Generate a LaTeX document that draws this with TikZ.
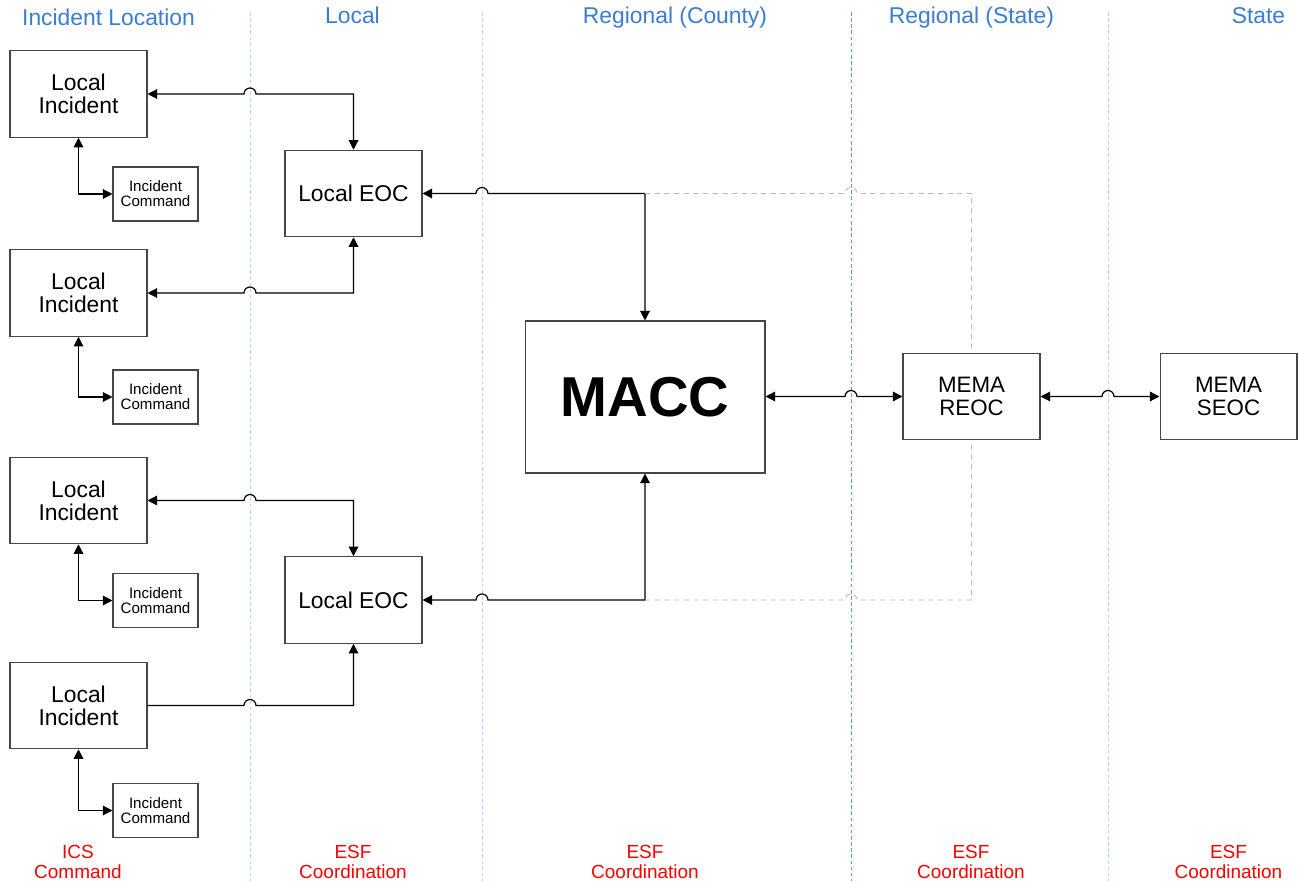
\documentclass[tikz,border=0pt]{standalone}
\usepackage{fontspec}
\setmainfont{Liberation Sans}
\usetikzlibrary{arrows.meta,calc}

\definecolor{headblue}{RGB}{58,125,210}
\definecolor{labelred}{RGB}{250,0,0}
\definecolor{divlight}{RGB}{178,214,240}
\definecolor{divdark}{RGB}{95,152,205}
\definecolor{boxgray}{RGB}{70,70,70}
\definecolor{dashgray}{RGB}{185,185,185}

\begin{document}
\begin{tikzpicture}[x=0.02cm,y=-0.02cm,
	>={Triangle[length=5.5pt,width=5.5pt]},
	unitbox/.style={draw=boxgray,line width=0.6pt,inner sep=0pt,align=center,
		minimum width=2.74cm,minimum height=1.73cm,font=\fontsize{13}{13}\selectfont},
	cmdbox/.style={draw=boxgray,line width=0.6pt,inner sep=0pt,align=center,
		minimum width=1.7cm,minimum height=1.08cm,font=\fontsize{8.6}{8.6}\selectfont},
	head/.style={anchor=base,text=headblue,font=\fontsize{13}{13}\selectfont},
	role/.style={text=labelred,align=center,font=\fontsize{10.8}{11.3}\selectfont},
	lane/.style={draw=divlight,line width=0.5pt,dash pattern=on 2pt off 1.5pt},
	lanedark/.style={draw=divdark,line width=0.5pt,dash pattern=on 2pt off 1.5pt},
	link/.style={line width=0.7pt},
	ghost/.style={draw=dashgray,line width=0.5pt,dash pattern=on 3pt off 2.5pt}]

	\useasboundingbox (0,0) rectangle (1298,881);

	% Lanes
	\coordinate (d1) at (250,12);
	\coordinate (d2) at (482,12);
	\coordinate (d3) at (851,12);
	\coordinate (d4) at (1108,12);
	\draw[lane] (d1) -- (250,881);
	\draw[lane] (d2) -- (482,881);
	\draw[lanedark] (d3) -- (851,881);
	\draw[lane] (d4) -- (1108,881);

	% Headers
	\node[head] (h1) at (108.5,26) {Incident Location};
	\node[head] (h2) at (352.5,24) {Local};
	\node[head] (h3) at (675,24)   {Regional (County)};
	\node[head] (h4) at (971.5,24) {Regional (State)};
	\node[head] (h5) at (1258.5,24) {State};

	% Incidents
	\node[unitbox] (li1) at (78.5,94)    {Local\\Incident};
	\node[unitbox] (li2) at (78.5,293)   {Local\\Incident};
	\node[unitbox] (li3) at (78.5,500.5) {Local\\Incident};
	\node[unitbox] (li4) at (78.5,705.5) {Local\\Incident};

	\node[cmdbox] (ic1) at (155.5,194)   {Incident\\Command};
	\node[cmdbox] (ic2) at (155.5,397)   {Incident\\Command};
	\node[cmdbox] (ic3) at (155.5,600.5) {Incident\\Command};
	\node[cmdbox] (ic4) at (155.5,810.5) {Incident\\Command};

	% Centres
	\node[unitbox] (eoc1) at (353.5,193.5) {Local EOC};
	\node[unitbox] (eoc2) at (353.5,600)   {Local EOC};
	\node[draw=boxgray,line width=0.6pt,minimum width=4.8cm,minimum height=3.04cm,
		font=\fontsize{32}{32}\selectfont\bfseries] (macc) at (645,397) {MACC};
	\node[unitbox,font=\fontsize{12.7}{12.8}\selectfont] (reoc) at (971.5,396.5) {MEMA\\REOC};
	\node[unitbox,font=\fontsize{12.7}{12.8}\selectfont] (seoc) at (1228.5,396.5) {MEMA\\SEOC};

	% Roles
	\node[role] (r1) at (78,862)     {ICS\\Command};
	\node[role] (r2) at (353,862)    {ESF\\Coordination};
	\node[role] (r3) at (645,862)    {ESF\\Coordination};
	\node[role] (r4) at (971,862)    {ESF\\Coordination};
	\node[role] (r5) at (1228.5,862) {ESF\\Coordination};

	% Command links
	\draw[link,<->] (li1.south) |- (ic1.west);
	\draw[link,<->] (li2.south) |- (ic2.west);
	\draw[link,<->] (li3.south) |- (ic3.west);
	\draw[link,<->] (li4.south) |- (ic4.west);

	% Incident to EOC
	\draw[link,<->] (li1.east) -- ($(d1 |- li1.east)+(-0.12cm,0)$)
		arc[start angle=180,end angle=0,radius=0.12cm] -| (eoc1.north);
	\draw[link,<->] (li2.east) -- ($(d1 |- li2.east)+(-0.12cm,0)$)
		arc[start angle=180,end angle=0,radius=0.12cm] -| (eoc1.south);
	\draw[link,<->] (li3.east) -- ($(d1 |- li3.east)+(-0.12cm,0)$)
		arc[start angle=180,end angle=0,radius=0.12cm] -| (eoc2.north);
	\draw[link,->] (li4.east) -- ($(d1 |- li4.east)+(-0.12cm,0)$)
		arc[start angle=180,end angle=0,radius=0.12cm] -| (eoc2.south);

	% EOC to MACC
	\draw[link,<->] (eoc1.east) -- ($(d2 |- eoc1.east)+(-0.12cm,0)$)
		arc[start angle=180,end angle=0,radius=0.12cm] -| (macc.north);
	\draw[link,<->] (eoc2.east) -- ($(d2 |- eoc2.east)+(-0.12cm,0)$)
		arc[start angle=180,end angle=0,radius=0.12cm] -| (macc.south);

	% Regional and state
	\draw[link,<->] (macc.east |- reoc.west) -- ($(d3 |- reoc.west)+(-0.12cm,0)$)
		arc[start angle=180,end angle=0,radius=0.12cm] -- (reoc.west);
	\draw[link,<->] (reoc.east) -- ($(d4 |- reoc.east)+(-0.12cm,0)$)
		arc[start angle=180,end angle=0,radius=0.12cm] -- (seoc.west);

	% Dashed back links
	\draw[ghost] (eoc1.east -| macc.north) -- ($(d3 |- eoc1.east)+(-0.12cm,0)$)
		arc[start angle=180,end angle=0,radius=0.12cm] -| (reoc.north);
	\draw[ghost] (eoc2.east -| macc.south) -- ($(d3 |- eoc2.east)+(-0.12cm,0)$)
		arc[start angle=180,end angle=0,radius=0.12cm] -| (reoc.south);
\end{tikzpicture}
\end{document}
